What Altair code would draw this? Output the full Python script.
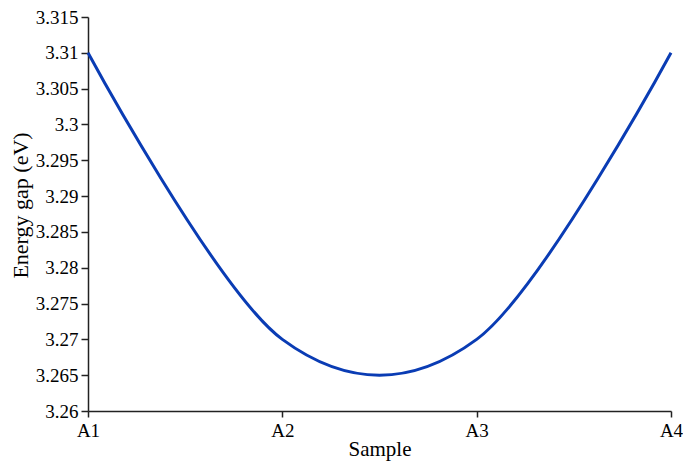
import altair as alt
import pandas as pd

samples = ["A1", "A2", "A3", "A4"]
energy_gap = [3.31, 3.27, 3.27, 3.31]
y_ticks = [3.26, 3.265, 3.27, 3.275, 3.28, 3.285, 3.29, 3.295, 3.3, 3.305, 3.31, 3.315]

df = pd.DataFrame({"Sample": samples, "Energy gap (eV)": energy_gap})

font = "Liberation Serif"

chart = alt.Chart(df).mark_line(
    interpolate="cardinal", color="#0a3cb4", strokeWidth=3
).encode(
    x=alt.X("Sample:N", sort=samples,
            scale=alt.Scale(type="point", padding=0),
            axis=alt.Axis(title="Sample", labelAngle=0, tickSize=6, labelPadding=4,
                          labelFontSize=19, titleFontSize=21,
                          titleBaseline="alphabetic", titleY=44, grid=False)),
    y=alt.Y("Energy gap (eV):Q",
            scale=alt.Scale(domain=[3.26, 3.315], nice=False, zero=False),
            axis=alt.Axis(title="Energy gap (eV)", values=y_ticks,
                          labelExpr="format(datum.value, '.3~f')",
                          labelFontSize=19, titleFontSize=22,
                          tickSize=7, labelPadding=3, titleX=-68, titleY=188,
                          titleBaseline="middle", grid=False)),
).properties(
    width=583, height=394,
    background="white",
    autosize=alt.AutoSizeParams(type="none"),
    padding={"left": 80, "top": 9, "right": 12, "bottom": 50},
).configure_view(stroke=None).configure_axis(
    labelFont=font, titleFont=font,
    labelColor="black", titleColor="black", domainColor="#222222", tickColor="#222222",
    titleFontWeight="normal", domainWidth=1.5, tickWidth=1.5,
)

chart.save("out.html", embed_options={"renderer": "svg", "actions": False})
